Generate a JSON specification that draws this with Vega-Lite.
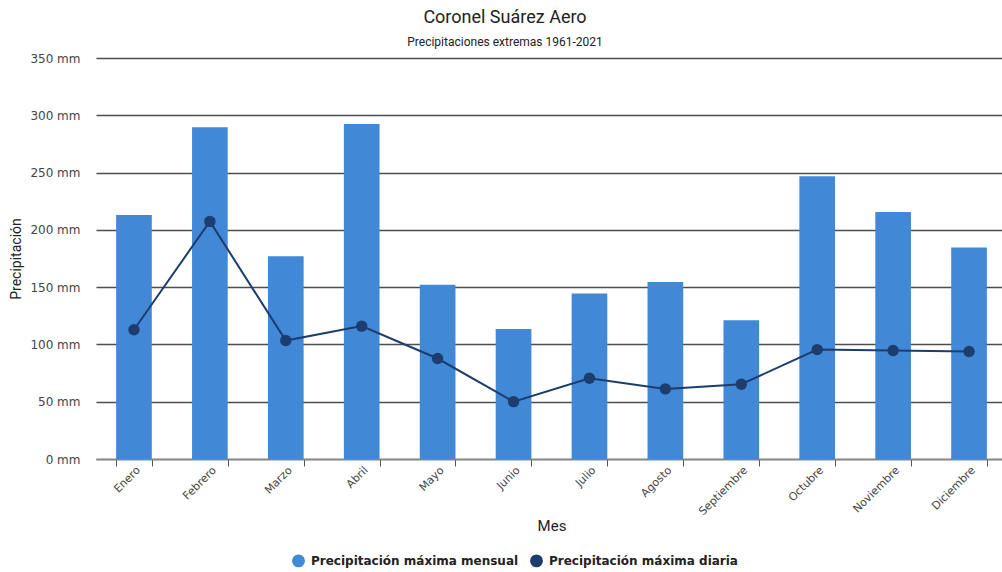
{
  "$schema": "https://vega.github.io/schema/vega-lite/v6.json",
  "autosize": {"type": "none"},
  "padding": {"left": 96, "top": 58, "right": 0, "bottom": 113},
  "width": 906,
  "height": 401,
  "background": "white",
  "title": {
    "text": "Coronel Suárez Aero",
    "subtitle": "Precipitaciones extremas 1961-2021",
    "anchor": "middle",
    "dx": -44,
    "offset": 4,
    "font": "Roboto",
    "fontSize": 18,
    "fontWeight": "normal",
    "color": "#222222",
    "subtitleFont": "Roboto",
    "subtitleFontSize": 12,
    "subtitleColor": "#222222",
    "subtitlePadding": 10
  },
  "config": {
    "view": {"stroke": null},
    "axis": {"labelFont": "DejaVu Sans", "titleFont": "Roboto", "titleFontWeight": "normal", "titleColor": "#222222", "labelColor": "#444444"},
    "legend": {"labelFont": "DejaVu Sans", "labelFontWeight": "bold", "labelFontSize": 12, "labelColor": "#222222", "labelLimit": 0}
  },
  "data": {
    "values": [
      {"mes": "Enero", "mensual": 213, "diaria": 112.8},
      {"mes": "Febrero", "mensual": 289.6, "diaria": 207.4},
      {"mes": "Marzo", "mensual": 177, "diaria": 103.4},
      {"mes": "Abril", "mensual": 292.5, "diaria": 116},
      {"mes": "Mayo", "mensual": 152, "diaria": 87.7},
      {"mes": "Junio", "mensual": 113.4, "diaria": 50.1},
      {"mes": "Julio", "mensual": 144.5, "diaria": 70.5},
      {"mes": "Agosto", "mensual": 154.4, "diaria": 61.2},
      {"mes": "Septiembre", "mensual": 121.2, "diaria": 65.3},
      {"mes": "Octubre", "mensual": 246.8, "diaria": 95.5},
      {"mes": "Noviembre", "mensual": 215.6, "diaria": 94.7},
      {"mes": "Diciembre", "mensual": 184.7, "diaria": 93.8}
    ]
  },
  "encoding": {
    "x": {
      "field": "mes",
      "type": "nominal",
      "sort": null,
      "title": "Mes",
      "scale": {"range": [0, 911], "paddingInner": 0.53, "paddingOuter": 0.265},
      "axis": {
        "labelAngle": -45,
        "labelFontSize": 11,
        "titleFontSize": 15,
        "titlePadding": 2,
        "tickBand": "extent",
        "tickSize": 7,
        "tickColor": "#555555",
        "domainColor": "#888888",
        "domainWidth": 1.5,
        "labelPadding": -2,
        "grid": false
      }
    }
  },
  "layer": [
    {
      "mark": {"type": "bar", "color": "#4189d6"},
      "encoding": {
        "y": {
          "field": "mensual",
          "type": "quantitative",
          "title": "Precipitación",
          "scale": {"domain": [0, 350], "nice": false},
          "axis": {
            "values": [0, 50, 100, 150, 200, 250, 300, 350],
            "labelExpr": "datum.value + ' mm'",
            "labelFontSize": 12,
            "titleFontSize": 14,
            "titlePadding": 6,
            "domain": false,
            "ticks": false,
            "labelPadding": 16,
            "grid": true,
            "gridColor": "#4d4d4d",
            "gridWidth": 1.3
          }
        },
        "color": {
          "datum": "Precipitación máxima mensual",
          "scale": {"domain": ["Precipitación máxima mensual", "Precipitación máxima diaria"], "range": ["#4189d6", "#1c3d6d"]},
          "legend": {"title": null, "orient": "none", "direction": "horizontal", "legendX": 196, "legendY": 496, "symbolType": "circle", "symbolSize": 130, "columnPadding": 8, "labelOffset": 6}
        }
      }
    },
    {
      "mark": {"type": "line", "strokeWidth": 2, "point": {"filled": true, "size": 130}},
      "encoding": {
        "y": {"field": "diaria", "type": "quantitative"},
        "color": {"datum": "Precipitación máxima diaria"}
      }
    }
  ]
}
